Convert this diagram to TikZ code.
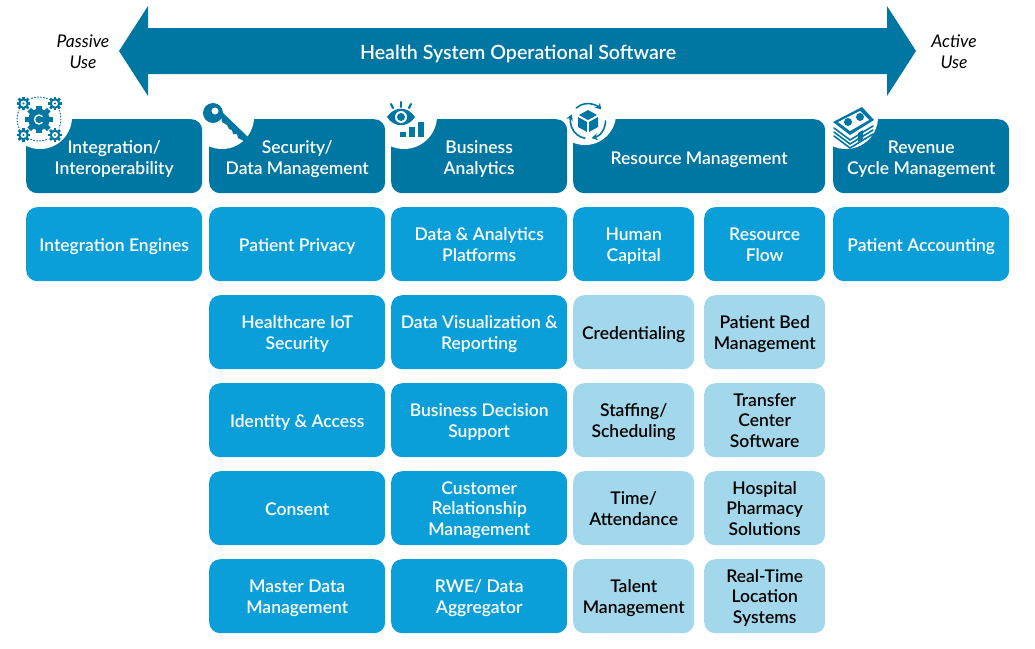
\documentclass[tikz,border=0pt]{standalone}
\usepackage{fontspec}
\setmainfont{Lato}[BoldFont={Lato Semibold}]
\usetikzlibrary{calc, arrows.meta}
\definecolor{headblue}{HTML}{0077A3}
\definecolor{midblue}{HTML}{0A9FD8}
\definecolor{paleblue}{HTML}{A3D7EB}
\tikzset{
  cell/.style={rounded corners=11, minimum height=74, inner sep=0, align=center, anchor=north west,
    font=\fontsize{17.5}{20.6}\selectfont\bfseries, execute at begin node={\rule[-5pt]{0pt}{24pt}}},
  tworows/.style={execute at begin node={\rule[-5pt]{0pt}{44pt}}},
  threerows/.style={execute at begin node={\rule[-5pt]{0pt}{64pt}}},
  headcell/.style={cell, fill=headblue, text=white},
  midcell/.style={cell, fill=midblue, text=white},
  palecell/.style={cell, fill=paleblue, text=black},
  sidetext/.style={align=center, font=\fontsize{17.5}{21}\selectfont\itshape},
  iconink/.style={fill=headblue, draw=none},
  iconline/.style={draw=headblue, line width=1.6, line cap=round}
}
% one gear: centre, radius, hole
\newcommand{\gearicon}[3]{
  \foreach \a in {0,45,...,315}
    \fill[iconink, rotate around={\a:(#1)}] ($(#1)+(-0.22*#2,0)$) rectangle ($(#1)+(0.22*#2,-1.15*#2)$);
  \fill[iconink] (#1) circle (0.9*#2);
  \fill[white] (#1) circle (#3);
}
\begin{document}
\begin{tikzpicture}[x=1pt, y=-1pt]
  \useasboundingbox (0,0) rectangle (1035,648);
  % Top arrow
  \draw[fill=headblue, draw=none] (119,51) -- (148,6) -- (148,28) -- (887,28) -- (887,6) -- (916,51)
    -- (887,96) -- (887,74) -- (148,74) -- (148,96) -- cycle;
  \node[text=white, font=\fontsize{19.6}{21}\selectfont\bfseries] (title) at (518,53.5) {Health System Operational Software};
  \node[sidetext] (passive) at (83,52) {Passive\\Use};
  \node[sidetext] (active) at (954,52) {Active\\Use};
  % Header row
  \node[headcell, minimum width=176] (integration) at (26,119) {};
  \node[headcell, minimum width=176] (security) at (209,119) {};
  \node[headcell, minimum width=176] (analytics) at (391,119) {};
  \node[headcell, minimum width=252] (resource) at (573,119) {};
  \node[headcell, minimum width=176] (revenue) at (833,119) {};
  % White corners behind the icons
  \foreach \l/\x/\y/\r in {26/40/117/32, 209/222/117/32, 391/404/116/33, 573/585/114/31, 833/846/117/32}{
    \begin{scope}
      \clip (\l-1,110) rectangle (\l+100,200);
      \fill[white] (\x,\y) circle (\r);
    \end{scope}
  }
  % Header labels
  \node[cell, tworows, text=white, minimum width=176] (integrationtext) at (26,120) {Integration/\\Interoperability};
  \node[cell, tworows, text=white, minimum width=176] (securitytext) at (209,120) {Security/\\Data Management};
  \node[cell, tworows, text=white, minimum width=176] (analyticstext) at (391,120) {Business\\Analytics};
  \node[cell, text=white, minimum width=252] (resourcetext) at (573,120) {Resource Management};
  \node[cell, tworows, text=white, minimum width=176] (revenuetext) at (833,120) {Revenue\\Cycle Management};
  % Second row
  \node[midcell, minimum width=176] (engines) at (26,207) {Integration Engines};
  \node[midcell, minimum width=176] (privacy) at (209,207) {Patient Privacy};
  \node[midcell, tworows, minimum width=176] (platforms) at (391,207) {Data \& Analytics\\Platforms};
  \node[midcell, tworows, minimum width=121] (capital) at (573,207) {Human\\Capital};
  \node[midcell, tworows, minimum width=121] (flow) at (704,207) {Resource\\Flow};
  \node[midcell, minimum width=176] (accounting) at (833,207) {Patient Accounting};
  % Security column
  \node[midcell, tworows, minimum width=176] (iot) at (209,295) {Healthcare IoT\\Security};
  \node[midcell, minimum width=176] (identity) at (209,383) {Identity \& Access};
  \node[midcell, minimum width=176] (consent) at (209,471) {Consent};
  \node[midcell, tworows, minimum width=176] (master) at (209,559) {Master Data\\Management};
  % Analytics column
  \node[midcell, tworows, minimum width=176] (reporting) at (391,295) {Data Visualization \&\\Reporting};
  \node[midcell, tworows, minimum width=176] (decision) at (391,383) {Business Decision\\Support};
  \node[midcell, threerows, minimum width=176] (customer) at (391,471) {Customer\\Relationship\\Management};
  \node[midcell, tworows, minimum width=176] (rwe) at (391,559) {RWE/ Data\\Aggregator};
  % Human capital column
  \node[palecell, minimum width=121] (credentialing) at (573,295) {Credentialing};
  \node[palecell, tworows, minimum width=121] (staffing) at (573,383) {Staffing/\\Scheduling};
  \node[palecell, tworows, minimum width=121] (attendance) at (573,471) {Time/\\Attendance};
  \node[palecell, tworows, minimum width=121] (talent) at (573,559) {Talent\\Management};
  % Resource flow column
  \node[palecell, tworows, minimum width=121] (bed) at (704,295) {Patient Bed\\Management};
  \node[palecell, threerows, minimum width=121] (transfer) at (704,383) {Transfer\\Center\\Software};
  \node[palecell, threerows, minimum width=121] (pharmacy) at (704,471) {Hospital\\Pharmacy\\Solutions};
  \node[palecell, threerows, minimum width=121] (location) at (704,559) {Real-Time\\Location\\Systems};
  % Gears icon
  \draw[iconline, line width=1, dotted] (39,119) circle (22);
  \foreach \p in {{23.5,103.5},{55,103.5},{23.5,135},{55,135}}{
    \fill[white] (\p) circle (8);
    \gearicon{\p}{6}{3}
    \fill[iconink] (\p) circle (1.2);
  }
  \gearicon{39,119.5}{12}{0}
  \draw[draw=white, line width=1.4, line cap=round] (42.2,116.3) arc (-45:-315:4.5);
  % Key icon
  \fill[iconink] (213,113) circle (10);
  \fill[iconink] (220,110) -- (248,137) -- (244,141) -- (238,138) -- (237,134) -- (233,134) -- (232,130)
    -- (229,129) -- (227,125) -- (222,122) -- cycle;
  \fill[white] (215,111) circle (3.5);
  % Eye and bars icon
  \fill[iconink] (387,117) .. controls (394,106) and (408,106) .. (415,117)
    .. controls (408,128) and (394,128) .. (387,117) -- cycle;
  \fill[white] (401,117) circle (6);
  \fill[iconink] (401,117) circle (4);
  \foreach \x/\y/\u/\v in {391/104/393/108, 401/102/401/107, 411/104/409/108}
    \draw[iconline, line width=2.2] (\x,\y) -- (\u,\v);
  \fill[iconink] (400,132) rectangle (406,137);
  \fill[iconink] (409,127) rectangle (415,137);
  \fill[iconink] (418,122) rectangle (424,137);
  % Box and arrows icon
  \foreach \s/\e in {-132/-41, 0/78, 100/202}
    \draw[iconline, -{Stealth[length=6,width=7]}] (588,121) ++(\s:17.5) arc (\s:\e:17.5);
  \fill[iconink] (588,110) -- (597,115) -- (588,120) -- (579,115) -- cycle;
  \fill[iconink] (578,117) -- (587,122) -- (587,132) -- (578,127) -- cycle;
  \fill[iconink] (598,117) -- (589,122) -- (589,132) -- (598,127) -- cycle;
  % Money icon
  \foreach \d in {12,8,4}
    \draw[iconline, fill=white] (834,124+\d) -- (850,136+\d) -- (873,122+\d);
  \fill[iconink] (833,122) -- (862,107) -- (874,120) -- (850,135) -- cycle;
  \fill[white] (838,122) -- (860,111) -- (869,120) -- (850,131) -- cycle;
  \fill[iconink] (848,122) circle (4);
  \fill[iconink] (860,117) circle (4);
  \fill[iconink] (858,133) -- (863,130) -- (863,139) -- (858,142) -- cycle;
\end{tikzpicture}
\end{document}
